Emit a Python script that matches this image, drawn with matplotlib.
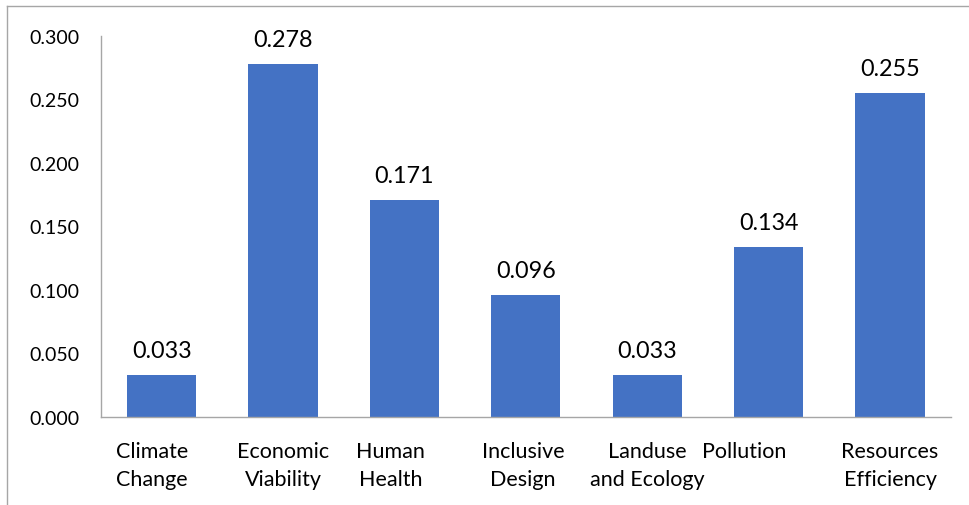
import numpy as np
import matplotlib
matplotlib.use("Agg")
import matplotlib.pyplot as plt
import matplotlib.transforms as mtransforms
from matplotlib.lines import Line2D

#===Data===#
categories = ["Climate\nChange", "Economic\nViability", "Human\nHealth", "Inclusive\nDesign",
              "Landuse\nand Ecology", "Pollution", "Resources\nEfficiency"]
values = [0.033, 0.278, 0.171, 0.096, 0.033, 0.134, 0.255]
yticks = [0.0, 0.05, 0.10, 0.15, 0.20, 0.25, 0.30]
# horizontal shift (pixels) of each category label, as the original wraps them
label_shift = [-10, 0, -14, -3, 0, -24, 0]

plt.rcParams['font.family'] = ['Lato', 'DejaVu Sans']

#===Create Figure===#
fig = plt.figure(figsize=(9.69, 5.06), dpi=100)
ax = fig.add_axes([0.1042, 0.174, 0.877, 0.753])

x = np.arange(len(categories))
ax.bar(x, values, width=0.57, color="#4472C4")

for xi, v in zip(x, values):
    ax.annotate("%.3f" % v, (xi, v), xytext=(0, 13), textcoords="offset points",
                ha="center", va="baseline", fontsize=16.8)

#===Axes===#
ax.set_xlim(-0.5, len(categories) - 0.5)
ax.set_ylim(0, 0.3)
ax.set_yticks(yticks)
ax.set_yticklabels(["%.3f" % t for t in yticks], fontsize=14)
ax.set_xticks(x)
ax.set_xticklabels(categories, fontsize=15.5, linespacing=1.55)
ax.tick_params(length=0)
ax.tick_params(axis="y", pad=15.5)
ax.tick_params(axis="x", pad=17)

for lab, dx in zip(ax.get_xticklabels(), label_shift):
    lab.set_transform(lab.get_transform() + mtransforms.ScaledTranslation(dx / 100.0, 0, fig.dpi_scale_trans))

for s in ["top", "right"]:
    ax.spines[s].set_visible(False)
for s in ["left", "bottom"]:
    ax.spines[s].set_color("#A6A6A6")
    ax.spines[s].set_linewidth(1.0)

#===Figure border (top and left)===#
fig.add_artist(Line2D([0.0072, 1.0], [0.986, 0.986], color="#A6A6A6", lw=1.0, transform=fig.transFigure))
fig.add_artist(Line2D([0.0072, 0.0072], [0.0, 0.986], color="#A6A6A6", lw=1.0, transform=fig.transFigure))

plt.savefig("out.png", dpi=100)
